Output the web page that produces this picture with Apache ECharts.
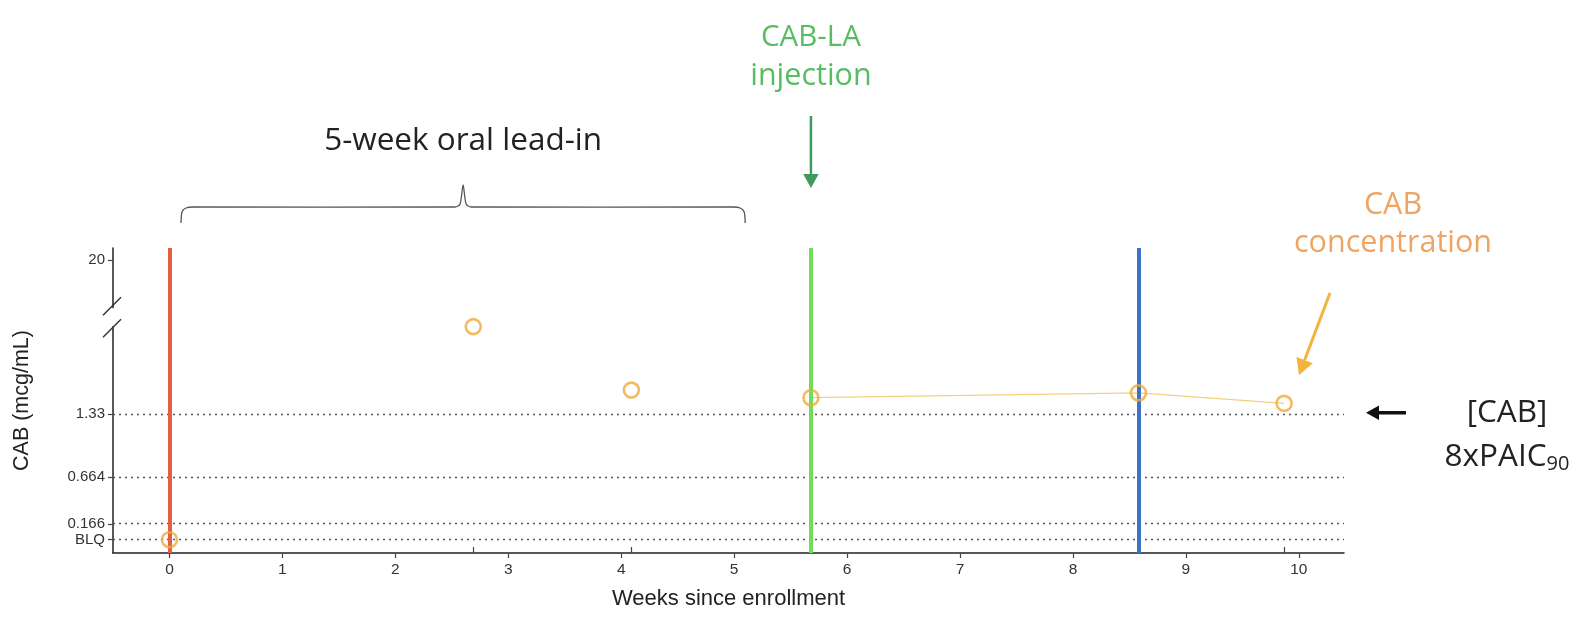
<!DOCTYPE html>
<html>
<head>
<meta charset="utf-8">
<script src="https://cdn.jsdelivr.net/npm/echarts@6/dist/echarts.min.js"></script>
<style>
  html, body { margin: 0; padding: 0; background: #fff; }
  #chart { width: 1588px; height: 620px; }
</style>
</head>
<body>
<div id="chart"></div>
<script>
// CAB plasma samples: weeks since enrollment and concentration (mcg/mL); 0 = BLQ
const sampleWeeks = [0, 2.69, 4.09, 5.68, 8.58, 9.87];
const cabConc = [0, 2.25, 1.58, 1.50, 1.55, 1.44];
// Samples after the long-acting injection, joined by a trend line
const laWeeks = [5.68, 8.58, 9.87];
const laConc = [1.50, 1.55, 1.44];
// Event times (weeks)
const enrollWeek = 0;
const injectionWeek = 5.68;
const visitWeek = 8.58;
// Oral lead-in span (weeks)
const leadInSpan = [0.12, 5.08];
// Axis ticks
const xTicks = [0, 1, 2, 3, 4, 5, 6, 7, 8, 9, 10];
const yTicks = [0, 0.166, 0.664, 1.33, 20];
const yTickLabels = ['BLQ', '0.166', '0.664', '1.33', '20'];
// Dotted reference levels; 1.33 = 8 x PA-IC90
const refLevels = [0, 0.166, 0.664, 1.33];
const targetLevel = 1.33;
// Broken segment of the concentration axis
const yBreak = { start: 2.3, end: 19.45, gap: 0.1 };

const chart = echarts.init(document.getElementById('chart'), null, { renderer: 'canvas' });

const axisFont = 'Liberation Sans, Arial, sans-serif';
const noteFont = 'Open Sans, Lato, sans-serif';

const option = {
  animation: false,
  backgroundColor: '#fff',
  grid: { left: 113, right: 244, top: 248, bottom: 67, containLabel: false },
  xAxis: [
    {
      type: 'value',
      min: -0.5,
      max: 10.4,
      name: 'Weeks since enrollment',
      nameLocation: 'middle',
      nameGap: 35,
      nameTextStyle: { fontFamily: axisFont, fontSize: 22, color: '#222' },
      axisLine: { onZero: false, lineStyle: { color: '#222', width: 1.5 } },
      axisTick: { show: true, length: 5, customValues: xTicks, lineStyle: { color: '#444', width: 1.2 } },
      axisLabel: { customValues: xTicks, margin: 9, fontFamily: axisFont, fontSize: 15.5, color: '#333' },
      splitLine: { show: false }
    },
    {
      // sample-time rug marks sitting on the time axis
      type: 'value',
      min: -0.5,
      max: 10.4,
      position: 'bottom',
      axisLine: { show: false, onZero: false },
      axisTick: { show: true, inside: true, length: 6, customValues: sampleWeeks, lineStyle: { color: '#444', width: 1.2 } },
      axisLabel: { show: false },
      splitLine: { show: false }
    }
  ],
  yAxis: {
    type: 'value',
    min: -0.14,
    max: 20.13,
    breaks: [yBreak],
    breakArea: { show: false },
    name: 'CAB (mcg/mL)',
    nameLocation: 'middle',
    nameRotate: 90,
    nameGap: 80,
    nameTextStyle: { fontFamily: axisFont, fontSize: 21.5, color: '#222' },
    axisLine: { show: true, onZero: false, lineStyle: { color: '#222', width: 1.5 } },
    axisTick: { show: true, length: 5, customValues: yTicks, lineStyle: { color: '#444', width: 1.2 } },
    axisLabel: {
      customValues: yTicks,
      margin: 8,
      fontFamily: axisFont,
      fontSize: 15,
      color: '#333',
      formatter: function (v) {
        const i = yTicks.indexOf(v);
        return i >= 0 ? yTickLabels[i] : '';
      }
    },
    splitLine: { show: false }
  },
  series: [
    {
      // dotted reference levels
      type: 'line',
      data: [],
      z: 1,
      markLine: {
        silent: true,
        symbol: ['none', 'none'],
        label: { show: false },
        lineStyle: { color: '#555', width: 1.3, type: [2, 4] },
        data: refLevels.map(v => ({ yAxis: v }))
      }
    },
    {
      // enrollment, injection and follow-up visit
      type: 'line',
      data: [],
      z: 3,
      markLine: {
        silent: true,
        symbol: ['none', 'none'],
        label: { show: false },
        data: [
          { xAxis: enrollWeek, lineStyle: { color: '#e2603f', width: 4, type: 'solid' } },
          { xAxis: injectionWeek, lineStyle: { color: '#6ede58', width: 4, type: 'solid' } },
          { xAxis: visitWeek, lineStyle: { color: '#3b74c4', width: 4, type: 'solid' } }
        ]
      }
    },
    {
      type: 'line',
      z: 4,
      data: laWeeks.map((w, i) => [w, laConc[i]]),
      showSymbol: false,
      symbol: 'none',
      lineStyle: { color: '#f3d07e', width: 1.3 }
    },
    {
      type: 'scatter',
      z: 6,
      data: sampleWeeks.map((w, i) => [w, cabConc[i]]),
      symbol: 'circle',
      symbolSize: 15,
      itemStyle: { color: 'rgba(255,255,255,0)', borderColor: '#f0a93a', borderWidth: 2.6 }
    }
  ]
};

chart.setOption(option);

// Annotations placed from data positions
const px = (w) => chart.convertToPixel({ xAxisIndex: 0 }, w);
const py = (c) => chart.convertToPixel({ yAxisIndex: 0 }, c);

const axisX = px(-0.5);
const xL = px(leadInSpan[0]);
const xR = px(leadInSpan[1]);
const xM = (xL + xR) / 2;
const braceY = 207;
const injX = px(injectionWeek);
const targetY = py(targetLevel);
const breakY = (py(yBreak.start) + py(yBreak.end)) / 2;

function arrow(x1, y1, x2, y2, color, width, head) {
  const ang = Math.atan2(y2 - y1, x2 - x1);
  const hl = head, hw = head * 0.55;
  const bx = x2 - hl * Math.cos(ang), by = y2 - hl * Math.sin(ang);
  const nx = -Math.sin(ang), ny = Math.cos(ang);
  return [
    { type: 'line', shape: { x1: x1, y1: y1, x2: bx, y2: by }, style: { stroke: color, lineWidth: width }, z: 10 },
    { type: 'polygon', shape: { points: [[x2, y2], [bx + nx * hw, by + ny * hw], [bx - nx * hw, by - ny * hw]] }, style: { fill: color }, z: 10 }
  ];
}

function label(x, y, text, color, size, extra) {
  return {
    type: 'text', x: x, y: y, z: 10,
    style: Object.assign({ text: text, fill: color, font: size + 'px ' + noteFont, align: 'center', verticalAlign: 'middle' }, extra || {})
  };
}

const graphics = [
  // curly brace over the oral lead-in
  {
    type: 'polyline',
    shape: {
      points: [
        [xL - 2, braceY + 16], [xL - 1, braceY + 5], [xL + 3, braceY + 1], [xL + 10, braceY],
        [xM - 8, braceY], [xM - 3, braceY - 3], [xM, braceY - 22],
        [xM + 3, braceY - 3], [xM + 8, braceY],
        [xR - 10, braceY], [xR - 3, braceY + 1], [xR + 1, braceY + 5], [xR + 2, braceY + 16]
      ],
      smooth: 0.25
    },
    style: { stroke: '#555', lineWidth: 1.3, fill: null },
    z: 10
  },
  label(xM, 141, '5-week oral lead-in', '#222', 31.5),
  label(injX, 38, 'CAB-LA', '#58bd62', 29.5),
  label(injX, 76, 'injection', '#58bd62', 30.5),
  ...arrow(injX, 116, injX, 188, '#3e9b5c', 2.5, 14),
  label(1393, 205, 'CAB', '#f0a462', 30.5),
  label(1393, 243, 'concentration', '#f0a462', 30.5),
  ...arrow(1330, 293, 1299, 375, '#f2b440', 3, 16),
  ...arrow(1406, targetY - 1, 1366, targetY - 1, '#111', 3.5, 13),
  label(1507, targetY - 1, '[CAB]', '#222', 31.5),
  label(1507, 457, '8xPAIC{sub|90}', '#222', 31.5, {
    rich: { sub: { fontSize: 20, fontFamily: noteFont, fill: '#222', verticalAlign: 'bottom', padding: [14, 0, 0, 0] } }
  }),
  // axis break marks
  { type: 'rect', shape: { x: axisX - 3, y: breakY - 9, width: 6, height: 18 }, style: { fill: '#fff' }, z: 11 },
  { type: 'line', shape: { x1: axisX - 10, y1: breakY - 2, x2: axisX + 8, y2: breakY - 20 }, style: { stroke: '#333', lineWidth: 1.4 }, z: 12 },
  { type: 'line', shape: { x1: axisX - 10, y1: breakY + 20, x2: axisX + 8, y2: breakY + 2 }, style: { stroke: '#333', lineWidth: 1.4 }, z: 12 }
];

chart.setOption({ graphic: graphics });
</script>
</body>
</html>
